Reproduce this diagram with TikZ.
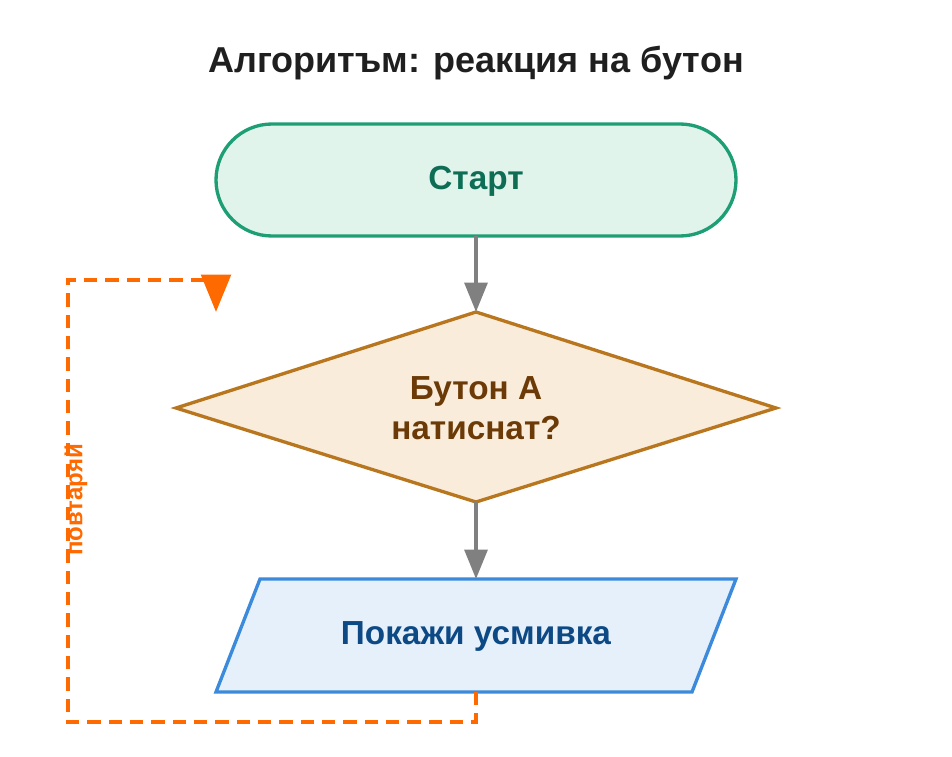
\documentclass[tikz,border=0pt]{standalone}
\usepackage{fontspec}
\setmainfont{Liberation Sans}
\usetikzlibrary{arrows.meta}
\definecolor{gfill}{HTML}{E0F4EC}\definecolor{gline}{HTML}{1E9E74}\definecolor{gtext}{HTML}{0E6E55}
\definecolor{dfill}{HTML}{FAECDA}\definecolor{dline}{HTML}{B8761E}\definecolor{dtext}{HTML}{6B3A06}
\definecolor{pfill}{HTML}{E6F0FA}\definecolor{pline}{HTML}{3B8ADB}\definecolor{ptext}{HTML}{0D4A85}
\definecolor{orng}{HTML}{FF6A00}\definecolor{conn}{HTML}{808080}
\begin{document}
\begin{tikzpicture}[x=0.75pt,y=-0.75pt,
  shp/.style={line width=2.5pt},
  lbl/.style={font=\bfseries\fontsize{25}{30}\selectfont,align=center},
  flow/.style={draw=conn,line width=3pt,-{Triangle[length=22pt,width=17pt,fill=conn]}}]
\useasboundingbox (0,0) rectangle (952,756);
\node[font=\bfseries\fontsize{27}{32}\selectfont,text=black!88] (title) at (476,63) {Алгоритъм: реакция на бутон};
\draw[shp,draw=gline,fill=gfill,rounded corners=42pt] (216,124) rectangle (736,236);
\node[lbl,text=gtext] (start) at (476,181) {Старт};
\draw[shp,draw=dline,fill=dfill] (476,312) -- (776,408) -- (476,502) -- (176,408) -- cycle;
\node[lbl,text=dtext] (dec) at (476,408) {Бутон А\\натиснат?};
\draw[shp,draw=pline,fill=pfill] (260,579) -- (736,579) -- (692,692) -- (216,692) -- cycle;
\node[lbl,text=ptext] (out) at (476,636) {Покажи усмивка};
\coordinate (sb) at (476,236); \coordinate (dt) at (476,312);
\coordinate (db) at (476,502); \coordinate (pt) at (476,579);
\coordinate (pb) at (476,692); \coordinate (c1) at (476,722);
\coordinate (c2) at (68,722); \coordinate (c3) at (68,280);
\coordinate (c4) at (216,280); \coordinate (c5) at (216,312);
\draw[flow] (sb) -- (dt);
\draw[flow] (db) -- (pt);
\draw[draw=orng,line width=3.3pt,dash pattern=on 10pt off 6pt,-{Triangle[length=28pt,width=22pt,fill=orng]}] (pb) -- (c1) -- (c2) -- (c3) -- (c4) -- (c5);
\node[text=orng,font=\bfseries\fontsize{18}{21}\selectfont,rotate=90] (rep) at (76,500) {повтаряй};
\end{tikzpicture}
\end{document}
